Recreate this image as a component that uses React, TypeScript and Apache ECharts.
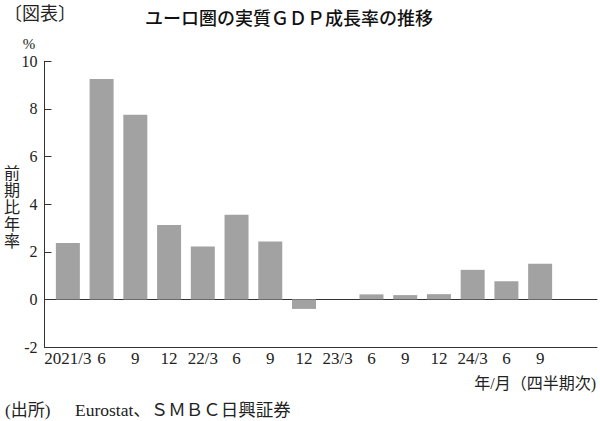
import React, { useEffect, useRef } from "react";
import * as echarts from "echarts";

const categories = ["2021/3", "6", "9", "12", "22/3", "6", "9", "12", "23/3", "6", "9", "12", "24/3", "6", "9"];
const growth = [2.37, 9.26, 7.76, 3.12, 2.22, 3.55, 2.43, -0.4, 0, 0.21, 0.18, 0.22, 1.24, 0.76, 1.5];
const yMin = -2;
const yMax = 10;
const yStep = 2;

const SERIF = "'Liberation Serif', 'DejaVu Serif', 'Noto Sans CJK JP', serif";
const CJK = "'Noto Sans CJK JP', sans-serif";
const TEXT = "#222";
const AXIS = "#333";

export default function App() {
  const ref = useRef<HTMLDivElement>(null);
  useEffect(() => {
    if (!ref.current) return;
    const chart = echarts.init(ref.current, undefined, { renderer: "svg" });
    const gridTop = 61.3;
    const gridBottom = 74;
    chart.setOption({
      animation: false,
      backgroundColor: "#fff",
      grid: [
        { left: 51, right: 43, top: gridTop, bottom: gridBottom },
        { left: 44.5, right: 3, top: gridTop, bottom: gridBottom },
      ],
      xAxis: [
        {
          type: "category",
          gridIndex: 0,
          data: categories,
          axisLine: { show: false },
          axisTick: { show: false },
          axisLabel: { fontFamily: SERIF, fontSize: 17, color: TEXT, margin: 3, interval: 0 },
        },
        {
          type: "value",
          gridIndex: 1,
          min: 0,
          max: 1,
          axisLine: { show: true, onZero: true, lineStyle: { color: AXIS, width: 1 } },
          axisTick: { show: false },
          axisLabel: { show: false },
          splitLine: { show: false },
        },
        {
          type: "value",
          gridIndex: 1,
          min: 0,
          max: 1,
          position: "bottom",
          axisLine: { show: true, onZero: false, lineStyle: { color: AXIS, width: 1 } },
          axisTick: { show: false },
          axisLabel: { show: false },
          splitLine: { show: false },
        },
      ],
      yAxis: [
        {
          type: "value",
          gridIndex: 0,
          min: yMin,
          max: yMax,
          interval: yStep,
          show: false,
        },
        {
          type: "value",
          gridIndex: 1,
          min: yMin,
          max: yMax,
          interval: yStep,
          axisLine: { show: true, lineStyle: { color: AXIS, width: 1 } },
          axisTick: { show: true, inside: true, length: 7, lineStyle: { color: AXIS } },
          axisLabel: { fontFamily: SERIF, fontSize: 16, color: TEXT, margin: 7 },
          splitLine: { show: false },
        },
      ],
      series: [
        {
          type: "bar",
          xAxisIndex: 0,
          yAxisIndex: 0,
          data: growth,
          barWidth: 24,
          itemStyle: { color: "#a2a2a2" },
          z: 1,
        },
      ],
      graphic: [
        {
          type: "text",
          left: 4,
          top: 5,
          style: { text: "〔図表〕", fontFamily: SERIF, fontSize: 18, fill: TEXT },
        },
        {
          type: "text",
          x: 289,
          y: 17,
          style: {
            text: "ユーロ圏の実質ＧＤＰ成長率の推移",
            fontFamily: CJK,
            fontSize: 18,
            fontWeight: 500,
            fill: "#111",
            align: "center",
            verticalAlign: "middle",
          },
        },
        {
          type: "text",
          x: 29,
          y: 44,
          style: { text: "%", fontFamily: SERIF, fontSize: 15, fill: TEXT, align: "center", verticalAlign: "middle" },
        },
        {
          type: "text",
          x: 12,
          y: 207,
          style: {
            text: "前\n期\n比\n年\n率",
            fontFamily: SERIF,
            fontSize: 16,
            lineHeight: 17,
            fill: TEXT,
            align: "center",
            verticalAlign: "middle",
          },
        },
        {
          type: "text",
          x: 596,
          y: 383,
          style: {
            text: "年/月（四半期次)",
            fontFamily: SERIF,
            fontSize: 16,
            fill: TEXT,
            align: "right",
            verticalAlign: "middle",
          },
        },
        {
          type: "text",
          x: 5,
          y: 410,
          style: {
            text: "(出所)",
            fontFamily: SERIF,
            fontSize: 17,
            fill: TEXT,
            align: "left",
            verticalAlign: "middle",
          },
        },
        {
          type: "text",
          x: 75,
          y: 410,
          style: {
            text: "Eurostat、ＳＭＢＣ日興証券",
            fontFamily: SERIF,
            fontSize: 17.5,
            fill: TEXT,
            align: "left",
            verticalAlign: "middle",
          },
        },
      ],
    });
    return () => chart.dispose();
  }, []);
  return (
    <div
      ref={ref}
      style={{ position: "fixed", left: 0, top: 0, width: 600, height: 421 }}
    />
  );
}
